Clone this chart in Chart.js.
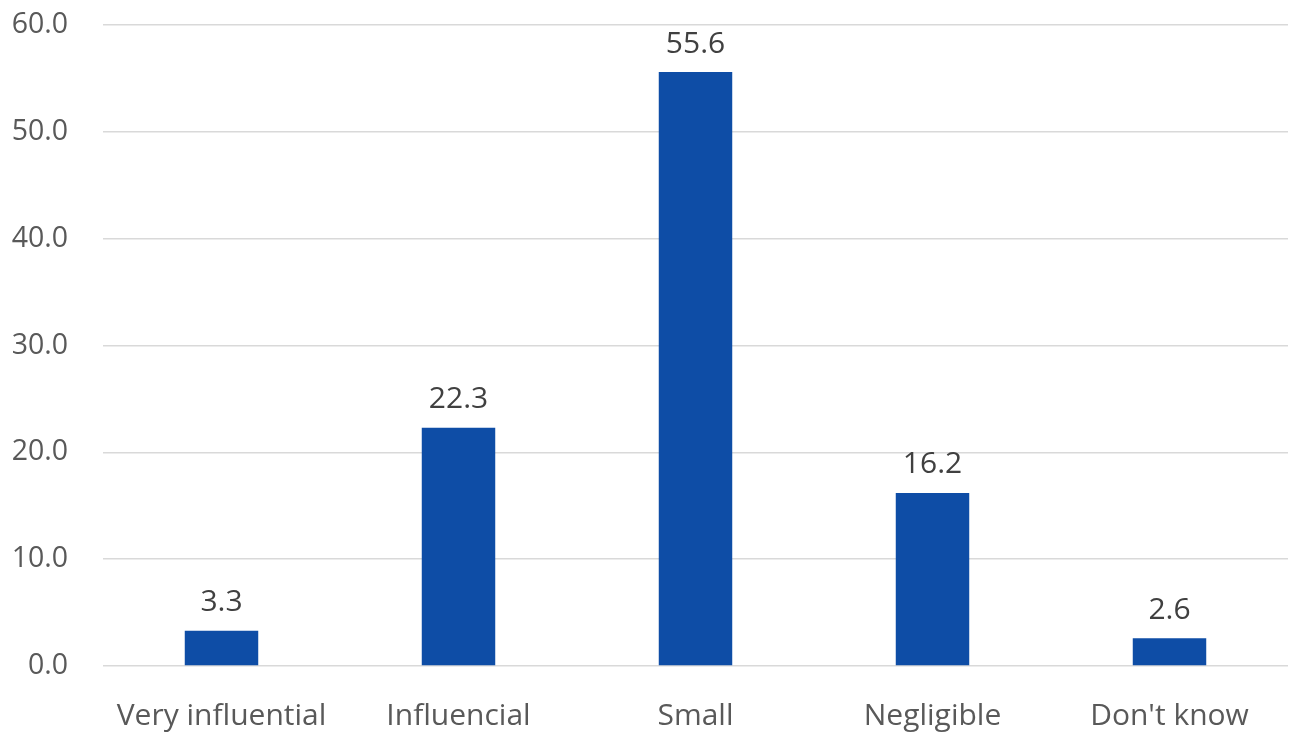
<!DOCTYPE html>
<html>
<head>
<meta charset="utf-8">
<script src="https://cdn.jsdelivr.net/npm/chart.js@4.4.1/dist/chart.umd.min.js"></script>
<style>
  html, body { margin: 0; padding: 0; background: #ffffff; }
  #wrap { width: 1290px; height: 734px; position: relative; }
</style>
</head>
<body>
<div id="wrap"><canvas id="chart"></canvas></div>
<script>
// Survey responses: perceived influence (%)
const categories = ['Very influential', 'Influencial', 'Small', 'Negligible', "Don't know"];
const shares = [3.3, 22.3, 55.6, 16.2, 2.6];
const yTicks = [0, 10, 20, 30, 40, 50, 60];

const FONT = '"Open Sans", "Noto Sans", sans-serif';

// Writes each bar's value just above it
const valueLabels = {
  id: 'valueLabels',
  afterDatasetsDraw(chart) {
    const ctx = chart.ctx;
    const meta = chart.getDatasetMeta(0);
    ctx.save();
    ctx.font = '30px ' + FONT;
    ctx.fillStyle = '#404040';
    ctx.textAlign = 'center';
    ctx.textBaseline = 'middle';
    meta.data.forEach((bar, i) => {
      ctx.fillText(shares[i].toFixed(1), bar.x, bar.y - 28);
    });
    ctx.restore();
  }
};

new Chart(document.getElementById('chart'), {
  type: 'bar',
  data: {
    labels: categories,
    datasets: [{
      data: shares,
      backgroundColor: '#0E4DA6',
      borderWidth: 0,
      categoryPercentage: 1,
      barPercentage: 0.31
    }]
  },
  options: {
    responsive: true,
    maintainAspectRatio: false,
    animation: false,
    layout: { padding: { top: 25, right: 2, left: 0, bottom: 0 } },
    plugins: { legend: { display: false }, tooltip: { enabled: false } },
    scales: {
      x: {
        grid: { display: false },
        border: { display: false },
        ticks: { color: '#595959', font: { family: FONT, size: 30 }, padding: 24, maxRotation: 0 },
        afterFit(scale) { scale.height = 68; }
      },
      y: {
        min: 0,
        max: 60,
        afterBuildTicks(scale) { scale.ticks = yTicks.map(v => ({ value: v })); },
        grid: { color: '#d9d9d9', lineWidth: 1.5, drawTicks: false },
        border: { display: false },
        ticks: {
          color: '#595959',
          font: { family: FONT, size: 28.5 },
          padding: 35,
          callback: v => Number(v).toFixed(1)
        },
        afterFit(scale) {
          scale.width = 103;
          scale.paddingTop = 0;
          scale.paddingBottom = 0;
        }
      }
    }
  },
  plugins: [valueLabels]
});
</script>
</body>
</html>
